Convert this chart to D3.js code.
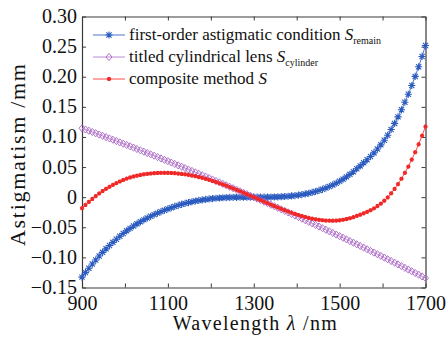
<!DOCTYPE html>
<html>
<head>
<meta charset="utf-8">
<script src="https://cdn.jsdelivr.net/npm/d3@7"></script>
<style>
  body { margin: 0; background: #fff; }
  svg { display: block; }
  svg text { font-family: "Liberation Serif", "DejaVu Serif", serif; }
</style>
</head>
<body>
<div id="chart"></div>
<script>
// wavelength samples (nm)
const wavelength = [900,908,916,924,932,940,948,956,964,972,980,988,996,1004,1012,1020,1028,1036,1044,1052,
  1060,1068,1076,1084,1092,1100,1108,1116,1124,1132,1140,1148,1156,1164,1172,1180,1188,1196,1204,1212,
  1220,1228,1236,1244,1252,1260,1268,1276,1284,1292,1300,1308,1316,1324,1332,1340,1348,1356,1364,1372,
  1380,1388,1396,1404,1412,1420,1428,1436,1444,1452,1460,1468,1476,1484,1492,1500,1508,1516,1524,1532,
  1540,1548,1556,1564,1572,1580,1588,1596,1604,1612,1620,1628,1636,1644,1652,1660,1668,1676,1684,1692,1700];

// first-order astigmatic condition S_remain (mm)
const sRemain = [-0.1328,-0.1253,-0.1181,-0.1111,-0.1044,-0.0978,-0.0916,-0.0858,-0.0803,-0.0750,
  -0.0699,-0.0650,-0.0603,-0.0559,-0.0518,-0.0479,-0.0443,-0.0409,-0.0377,-0.0346,
  -0.0318,-0.0290,-0.0265,-0.0240,-0.0217,-0.0195,-0.0174,-0.0154,-0.0136,-0.0119,
  -0.0103,-0.0089,-0.0076,-0.0064,-0.0054,-0.0045,-0.0037,-0.0030,-0.0023,-0.0018,
  -0.0014,-0.0010,-0.0007,-0.0005,-0.0003,-0.0002,-0.0001,0.0000,0.0000,0.0000,
  0.0000,0.0000,0.0000,0.0000,0.0001,0.0002,0.0003,0.0005,0.0008,0.0011,
  0.0015,0.0021,0.0027,0.0034,0.0043,0.0054,0.0065,0.0079,0.0094,0.0112,
  0.0131,0.0153,0.0177,0.0203,0.0232,0.0264,0.0299,0.0337,0.0379,0.0423,
  0.0472,0.0519,0.0570,0.0621,0.0676,0.0735,0.0800,0.0869,0.0945,0.1027,
  0.1124,0.1225,0.1333,0.1451,0.1577,0.1709,0.1854,0.2005,0.2165,0.2337,0.2518];

// titled cylindrical lens S_cylinder (mm)
const sCylinder = [0.1145,0.1124,0.1103,0.1082,0.1061,0.1040,0.1018,0.0997,0.0975,0.0954,
  0.0932,0.0910,0.0888,0.0867,0.0845,0.0823,0.0800,0.0778,0.0756,0.0733,
  0.0711,0.0688,0.0666,0.0643,0.0620,0.0598,0.0575,0.0552,0.0528,0.0505,
  0.0482,0.0459,0.0435,0.0412,0.0388,0.0365,0.0341,0.0317,0.0293,0.0269,
  0.0245,0.0221,0.0197,0.0172,0.0148,0.0124,0.0099,0.0074,0.0050,0.0025,
  0.0000,-0.0025,-0.0050,-0.0075,-0.0100,-0.0126,-0.0151,-0.0176,-0.0202,-0.0227,
  -0.0253,-0.0279,-0.0305,-0.0330,-0.0356,-0.0383,-0.0409,-0.0435,-0.0461,-0.0488,
  -0.0514,-0.0541,-0.0567,-0.0594,-0.0621,-0.0648,-0.0674,-0.0701,-0.0729,-0.0756,
  -0.0783,-0.0810,-0.0838,-0.0865,-0.0893,-0.0921,-0.0948,-0.0976,-0.1004,-0.1032,
  -0.1060,-0.1088,-0.1116,-0.1145,-0.1173,-0.1202,-0.1230,-0.1259,-0.1287,-0.1316,-0.1345];

// composite method S (mm)
const sComposite = [-0.0183,-0.0129,-0.0078,-0.0029,0.0017,0.0062,0.0102,0.0139,0.0172,0.0204,
  0.0233,0.0260,0.0285,0.0308,0.0327,0.0344,0.0357,0.0369,0.0379,0.0387,
  0.0393,0.0398,0.0401,0.0403,0.0403,0.0403,0.0401,0.0398,0.0392,0.0386,
  0.0379,0.0370,0.0359,0.0348,0.0334,0.0320,0.0304,0.0287,0.0270,0.0251,
  0.0231,0.0211,0.0190,0.0167,0.0145,0.0122,0.0098,0.0074,0.0050,0.0025,
  0.0000,-0.0025,-0.0050,-0.0075,-0.0099,-0.0124,-0.0148,-0.0171,-0.0194,-0.0216,
  -0.0238,-0.0258,-0.0278,-0.0296,-0.0313,-0.0329,-0.0344,-0.0356,-0.0367,-0.0376,
  -0.0383,-0.0388,-0.0390,-0.0391,-0.0389,-0.0384,-0.0375,-0.0364,-0.0350,-0.0333,
  -0.0311,-0.0291,-0.0268,-0.0244,-0.0217,-0.0186,-0.0148,-0.0107,-0.0059,-0.0005,
  0.0064,0.0137,0.0217,0.0306,0.0404,0.0507,0.0624,0.0746,0.0878,0.1021,0.1173];

const xTicks = [900, 1000, 1100, 1200, 1300, 1400, 1500, 1600, 1700];
const xTickLabels = [900, 1100, 1300, 1500, 1700];
const yTicks = [-0.15, -0.10, -0.05, 0, 0.05, 0.10, 0.15, 0.20, 0.25, 0.30];

const width = 446, height = 337;
const margin = { top: 16.5, right: 20.5, bottom: 49.5, left: 82 };
const w = width - margin.left - margin.right;
const h = height - margin.top - margin.bottom;

const svg = d3.select("#chart").append("svg")
  .attr("width", width)
  .attr("height", height);

const g = svg.append("g")
  .attr("transform", "translate(" + margin.left + "," + margin.top + ")");

const x = d3.scaleLinear().domain([900, 1700]).range([0, w]);
const y = d3.scaleLinear().domain([-0.15, 0.30]).range([h, 0]);

const axisColor = "#3a3a3a";
const fmtY = d => d === 0 ? "0" : d3.format(".2f")(d);

// bottom axis, inward ticks
const xAxis = g.append("g")
  .attr("transform", "translate(0," + h + ")")
  .call(d3.axisBottom(x).tickValues(xTicks).tickSizeInner(-4).tickSizeOuter(0)
    .tickFormat(d => xTickLabels.includes(d) ? d : ""));
xAxis.selectAll("text").attr("y", 8).attr("dy", "0.71em");

// left axis, inward ticks
const yAxis = g.append("g")
  .call(d3.axisLeft(y).tickValues(yTicks).tickSizeInner(-4).tickSizeOuter(0).tickFormat(fmtY));
yAxis.selectAll("text").attr("x", -5).attr("dy", "0.3em");

// mirrored ticks on top and right
g.append("g")
  .call(d3.axisTop(x).tickValues(xTicks).tickSizeInner(-4).tickSizeOuter(0).tickFormat(""));
g.append("g")
  .attr("transform", "translate(" + w + ",0)")
  .call(d3.axisRight(y).tickValues(yTicks).tickSizeInner(-4).tickSizeOuter(0).tickFormat(""));

g.selectAll(".domain").attr("stroke", axisColor).attr("stroke-width", 1.2);
g.selectAll(".tick line").attr("stroke", axisColor);
g.selectAll(".tick text").attr("fill", "#111").attr("font-size", 20);
g.selectAll("g").attr("font-size", 20);

// marker shapes
const star = (s) => "M" + (-s) + ",0H" + s + "M0," + (-s) + "V" + s +
  "M" + (-s * 0.72) + "," + (-s * 0.72) + "L" + (s * 0.72) + "," + (s * 0.72) +
  "M" + (-s * 0.72) + "," + (s * 0.72) + "L" + (s * 0.72) + "," + (-s * 0.72);
const diamond = (a, b) => "M0," + (-b) + "L" + a + ",0L0," + b + "L" + (-a) + ",0Z";

const series = [
  { values: sRemain, line: "#4a76cf", mark: "#2b5bbf", path: star(3.6), width: 1.1, fill: "none" },
  { values: sCylinder, line: "#c08bd5", mark: "#a865c4", path: diamond(3, 3.6), width: 0.9, fill: "none" },
  { values: sComposite, line: "#ff4a4a", mark: "#f02828", path: star(2.1), width: 1.3, fill: "none" }
];

const line = d3.line()
  .x((d, i) => x(wavelength[i]))
  .y(d => y(d));

series.forEach(s => {
  g.append("path")
    .datum(s.values)
    .attr("fill", "none")
    .attr("stroke", s.line)
    .attr("stroke-width", 1)
    .attr("d", line);

  g.selectAll(null)
    .data(s.values)
    .enter().append("path")
    .attr("transform", (d, i) => "translate(" + x(wavelength[i]) + "," + y(d) + ")")
    .attr("d", s.path)
    .attr("fill", s.fill)
    .attr("stroke", s.mark)
    .attr("stroke-width", s.width);
});

// legend
const legendRows = [
  { name: "first-order astigmatic condition ", sub: "remain" },
  { name: "titled cylindrical lens ", sub: "cylinder" },
  { name: "composite method ", sub: "" }
];
const legend = svg.append("g").attr("transform", "translate(93,35)");
legendRows.forEach((r, i) => {
  const s = series[i];
  const row = legend.append("g").attr("transform", "translate(0," + (i * 22) + ")");
  row.append("line").attr("x1", 0).attr("x2", 32).attr("y1", 0).attr("y2", 0)
    .attr("stroke", s.line).attr("stroke-width", 1);
  row.append("path").attr("transform", "translate(16,0)").attr("d", s.path)
    .attr("fill", s.fill).attr("stroke", s.mark).attr("stroke-width", s.width);
  const t = row.append("text").attr("x", 36).attr("y", 5)
    .attr("fill", "#111").attr("font-size", 17);
  t.append("tspan").text(r.name);
  t.append("tspan").attr("font-style", "italic").text("S");
  if (r.sub) {
    t.append("tspan").attr("dy", 4).attr("font-size", 10).text(r.sub);
  }
});

// axis titles
svg.append("text")
  .attr("transform", "translate(25," + (margin.top + h / 2 + 3) + ") rotate(-90)")
  .attr("text-anchor", "middle")
  .attr("fill", "#111")
  .attr("font-size", 22)
  .attr("textLength", 182)
  .attr("lengthAdjust", "spacing")
  .text("Astigmatism /mm");

const xt = svg.append("text")
  .attr("x", margin.left + w / 2 + 1)
  .attr("y", 330)
  .attr("text-anchor", "middle")
  .attr("fill", "#111")
  .attr("font-size", 20)
  .attr("textLength", 164)
  .attr("lengthAdjust", "spacing");
xt.append("tspan").text("Wavelength ");
xt.append("tspan").attr("font-style", "italic").text("λ");
xt.append("tspan").text(" /nm");
</script>
</body>
</html>
